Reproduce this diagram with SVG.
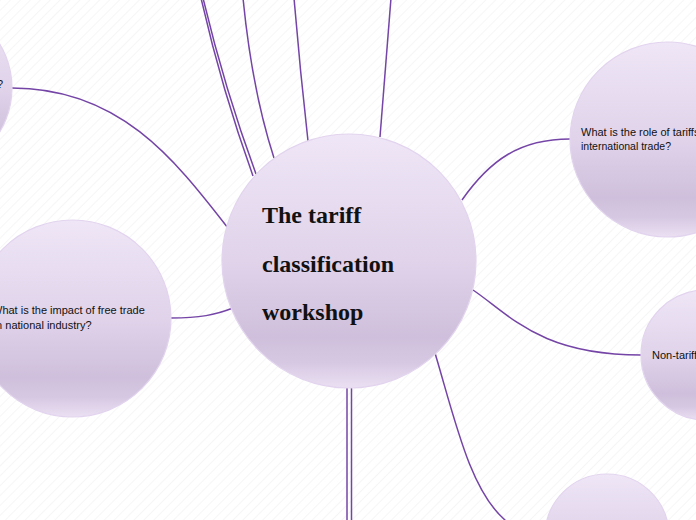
<svg xmlns="http://www.w3.org/2000/svg" width="696" height="520" viewBox="0 0 696 520">
<defs>
<pattern id="stripes" width="7" height="7" patternUnits="userSpaceOnUse" patternTransform="rotate(45)">
<line x1="0" y1="0" x2="0" y2="7" stroke="#f2f2f2" stroke-width="1.3"/>
</pattern>
<linearGradient id="nodeGrad" x1="0" y1="0" x2="0" y2="1">
<stop offset="0" stop-color="#efe6f7"/>
<stop offset="0.5" stop-color="#e0d3ea"/>
<stop offset="0.8" stop-color="#cfbfdc"/>
<stop offset="0.9" stop-color="#d6c8e2"/>
<stop offset="1" stop-color="#ebe0f3"/>
</linearGradient>
</defs>
<style>
.node{fill:url(#nodeGrad);stroke:#e2d4ee;stroke-width:1.2}
.link{fill:none;stroke:#7444a6;stroke-width:1.5}
.label{font-family:"Liberation Sans",Arial,sans-serif;font-size:11px;fill:#111}
.title{font-family:"Liberation Serif","Times New Roman",serif;font-size:24px;font-weight:bold;fill:#111}
</style>
<rect width="696" height="520" fill="#ffffff"/>
<rect width="696" height="520" fill="url(#stripes)"/>
<g id="connectors">
<path class="link" d="M12 88 C120 88 175 160 228 228"/>
<path class="link" d="M171 318 C200 318 215 315 233 308"/>
<path class="link" d="M201 -2 Q222 90 253 176"/>
<path class="link" d="M203 -2 Q225 90 256 174"/>
<path class="link" d="M243 -2 Q252 90 274 158"/>
<path class="link" d="M294 -2 Q300 70 308 141"/>
<path class="link" d="M391 -2 Q385 70 380 137"/>
<path class="link" d="M462 200 C490 160 520 139 570 139"/>
<path class="link" d="M473 290 C510 315 540 355 641 355"/>
<path class="link" d="M435 353 C455 420 470 490 505 520 L515 528"/>
<path class="link" d="M347 388 L347 522"/>
<path class="link" d="M351.5 388 L351.5 522"/>
</g>
<g id="node-topleft">
<circle class="node" cx="-73" cy="88" r="85"/>
<text class="label" x="-3" y="88">?</text>
</g>
<g id="node-impact">
<circle class="node" cx="72.5" cy="318.5" r="98.5"/>
<text class="label" x="-8" y="314">What is the impact of free trade</text>
<text class="label" x="-10" y="329">on national industry?</text>
</g>
<g id="node-role">
<circle class="node" cx="667.5" cy="139.5" r="97.5"/>
<text class="label" x="581" y="136">What is the role of tariffs in</text>
<text class="label" x="581" y="150" textLength="90" lengthAdjust="spacingAndGlyphs">international trade?</text>
</g>
<g id="node-nontariff">
<circle class="node" cx="706" cy="355" r="65"/>
<text class="label" x="652" y="359">Non-tariff</text>
</g>
<g id="node-bottom">
<circle class="node" cx="607" cy="536" r="62"/>
</g>
<g id="node-center">
<circle class="node" cx="349" cy="261" r="127"/>
<text class="title" x="262" y="223">The tariff</text>
<text class="title" x="262" y="272">classification</text>
<text class="title" x="262" y="320">workshop</text>
</g>
</svg>
